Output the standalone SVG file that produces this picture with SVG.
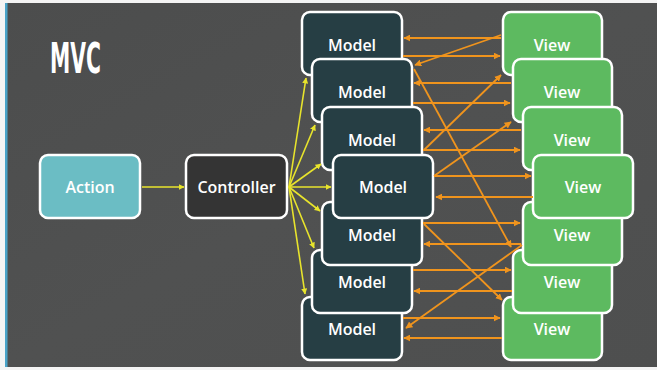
<svg xmlns="http://www.w3.org/2000/svg" width="657" height="370" viewBox="0 0 657 370">
<style>
.box{stroke:#ffffff;stroke-width:2.5}
.model{fill:#263e44}
.view{fill:#5dba60}
.lbl{font-family:"Open Sans","Liberation Sans",sans-serif;font-weight:600;font-size:16px;fill:#ffffff;text-anchor:middle}
.y{stroke:#e8e42c;stroke-width:1.6;fill:none;marker-end:url(#ay)}
.o{stroke:#f0941d;stroke-width:1.8;fill:none;marker-end:url(#ao)}
</style>
<defs>
<marker id="ay" viewBox="0 0 10 10" refX="9" refY="5" markerWidth="6" markerHeight="6" orient="auto" markerUnits="userSpaceOnUse">
<path d="M0,0 L10,5 L0,10 z" fill="#e8e42c"/>
</marker>
<marker id="ao" viewBox="0 0 10 10" refX="9" refY="5" markerWidth="7" markerHeight="7" orient="auto" markerUnits="userSpaceOnUse">
<path d="M0,0 L10,5 L0,10 z" fill="#f0941d"/>
</marker>
<linearGradient id="bg" x1="0" y1="0" x2="1" y2="1">
<stop offset="0" stop-color="#4c4d4d"/>
<stop offset="0.5" stop-color="#505151"/>
<stop offset="1" stop-color="#4e4f4f"/>
</linearGradient>
</defs>
<rect x="0" y="0" width="657" height="370" fill="#f4f4f4"/>
<rect x="6" y="3" width="651" height="364" fill="url(#bg)"/>
<rect x="5" y="3" width="2.5" height="364" fill="#4aa3c8"/>
<g id="title">
<text x="50" y="73" font-family="'Liberation Sans Narrow','DejaVu Sans Condensed','Liberation Sans',sans-serif" font-weight="700" font-size="42" fill="#ffffff" textLength="51" lengthAdjust="spacingAndGlyphs">MVC</text>
</g>
<g id="action"><rect class="box" x="40" y="155" width="100" height="63" rx="8" fill="#6bbdc4"/><text class="lbl" x="90" y="193">Action</text></g>
<g id="controller"><rect class="box" x="186" y="155" width="101" height="63" rx="8" fill="#343434"/><text class="lbl" x="236.5" y="193">Controller</text></g>
<g id="model1"><rect class="box model" x="302" y="12" width="100" height="63" rx="8"/><text class="lbl" x="352" y="51">Model</text></g>
<g id="model7"><rect class="box model" x="302" y="297" width="100" height="63" rx="8"/><text class="lbl" x="352" y="335">Model</text></g>
<g id="model2"><rect class="box model" x="312" y="59" width="100" height="63" rx="8"/><text class="lbl" x="362" y="98">Model</text></g>
<g id="model6"><rect class="box model" x="312" y="250" width="100" height="63" rx="8"/><text class="lbl" x="362" y="288">Model</text></g>
<g id="model3"><rect class="box model" x="322" y="107" width="100" height="63" rx="8"/><text class="lbl" x="372" y="146">Model</text></g>
<g id="model5"><rect class="box model" x="322" y="202" width="100" height="63" rx="8"/><text class="lbl" x="372" y="241">Model</text></g>
<g id="model4"><rect class="box model" x="333" y="155" width="100" height="63" rx="8"/><text class="lbl" x="383" y="193">Model</text></g>
<g id="view1"><rect class="box view" x="503" y="12" width="99" height="63" rx="8"/><text class="lbl" x="552" y="51">View</text></g>
<g id="view7"><rect class="box view" x="503" y="297" width="99" height="63" rx="8"/><text class="lbl" x="552" y="335">View</text></g>
<g id="view2"><rect class="box view" x="513" y="59" width="99" height="63" rx="8"/><text class="lbl" x="562" y="98">View</text></g>
<g id="view6"><rect class="box view" x="513" y="250" width="99" height="63" rx="8"/><text class="lbl" x="562" y="288">View</text></g>
<g id="view3"><rect class="box view" x="523" y="107" width="99" height="63" rx="8"/><text class="lbl" x="572" y="146">View</text></g>
<g id="view5"><rect class="box view" x="523" y="202" width="99" height="63" rx="8"/><text class="lbl" x="572" y="241">View</text></g>
<g id="view4"><rect class="box view" x="533" y="155" width="100" height="63" rx="8"/><text class="lbl" x="583" y="193">View</text></g>
<g id="connectors">
<line class="y" x1="142" y1="187" x2="184" y2="187"/>
<line class="y" x1="289" y1="187" x2="306" y2="78"/>
<line class="y" x1="289" y1="187" x2="315" y2="125"/>
<line class="y" x1="289" y1="187" x2="321" y2="164"/>
<line class="y" x1="289" y1="187" x2="331" y2="187"/>
<line class="y" x1="289" y1="187" x2="320" y2="211"/>
<line class="y" x1="289" y1="187" x2="314" y2="248"/>
<line class="y" x1="289" y1="187" x2="305" y2="294"/>
<line class="o" x1="501" y1="38" x2="404" y2="38"/>
<line class="o" x1="403" y1="56" x2="500" y2="56"/>
<line class="o" x1="511" y1="83" x2="414" y2="83"/>
<line class="o" x1="413" y1="103" x2="510" y2="103"/>
<line class="o" x1="521" y1="130" x2="424" y2="130"/>
<line class="o" x1="423" y1="150" x2="520" y2="150"/>
<line class="o" x1="434" y1="176" x2="531" y2="176"/>
<line class="o" x1="533" y1="197" x2="436" y2="197"/>
<line class="o" x1="423" y1="223" x2="520" y2="223"/>
<line class="o" x1="521" y1="244" x2="424" y2="244"/>
<line class="o" x1="413" y1="270" x2="511" y2="270"/>
<line class="o" x1="512" y1="291" x2="414" y2="291"/>
<line class="o" x1="403" y1="318" x2="500" y2="318"/>
<line class="o" x1="502" y1="338" x2="404" y2="338"/>
<line class="o" x1="501" y1="35" x2="415" y2="65"/>
<line class="o" x1="414" y1="69" x2="511" y2="247"/>
<line class="o" x1="424" y1="150" x2="501" y2="75"/>
<line class="o" x1="434" y1="176" x2="511" y2="122"/>
<line class="o" x1="424" y1="224" x2="502" y2="300"/>
<line class="o" x1="522" y1="245" x2="406" y2="328"/>
</g>
</svg>
